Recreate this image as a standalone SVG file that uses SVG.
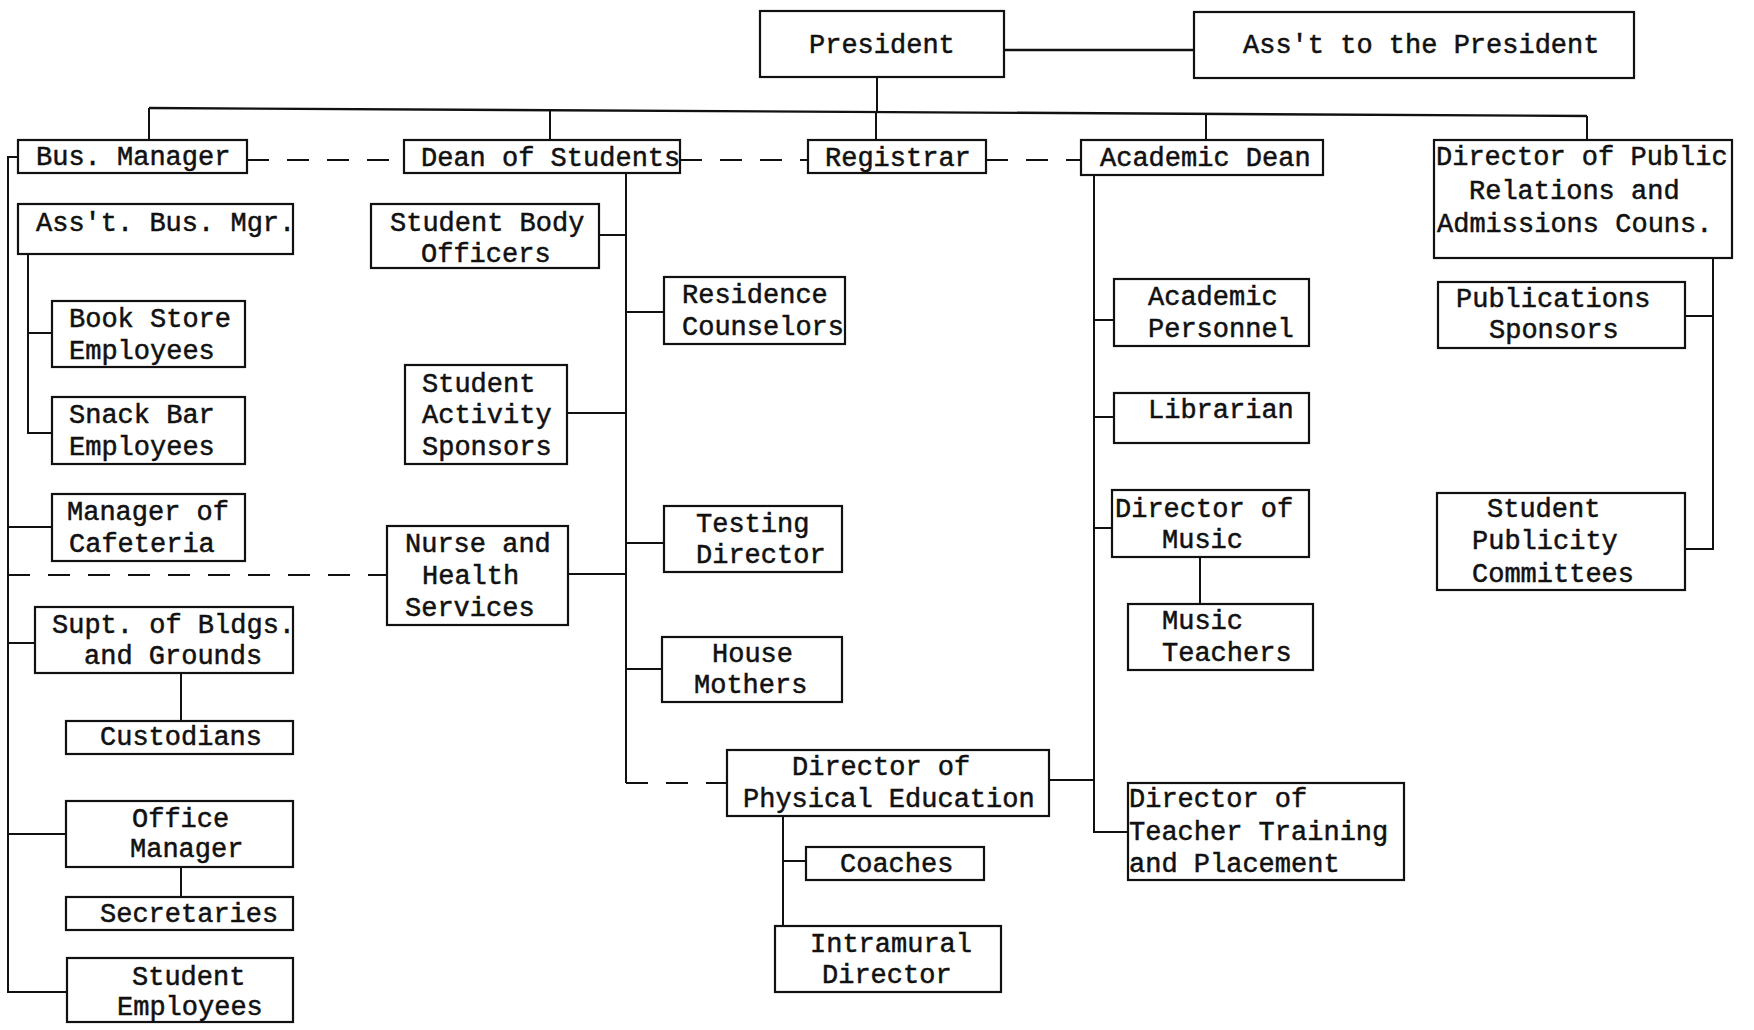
<svg xmlns="http://www.w3.org/2000/svg" width="1754" height="1030" viewBox="0 0 1754 1030">
<style>
.b{fill:#fff;stroke:#111;stroke-width:2.2}
.t{font-family:"Liberation Mono","Courier New",monospace;font-size:27px;fill:#111;stroke:#111;stroke-width:0.5}
.c{fill:none;stroke:#111;stroke-width:2}
.d{fill:none;stroke:#111;stroke-width:2.2;stroke-dasharray:22 18}
</style>
<rect width="1754" height="1030" fill="#fff"/>
<g id="connectors">
<path class="c" d="M1004 50H1194" style="stroke-width:2.6"/>
<path class="c" d="M877 77V112"/>
<path class="c" d="M149 108L1587 116" style="stroke-width:2.4"/>
<path class="c" d="M149 108V140M550 110V140M876 112V140M1206 114V140M1587 116V140"/>
<path class="d" d="M247 160H404M680 160H808M986 160H1081"/>
<path class="c" d="M18 157H8V992H67M8 527H52M8 643H35M8 834H66"/>
<path class="d" d="M8 575H387"/>
<path class="c" d="M28 254V433H52M28 333H52"/>
<path class="c" d="M626 173V783M599 235H626M626 312H664M567 413H626M626 543H664M568 574H626M626 669H662"/>
<path class="d" d="M626 783H727"/>
<path class="c" d="M181 673V721M181 867V897"/>
<path class="c" d="M783 816V926M783 861H806"/>
<path class="c" d="M1049 780H1094M1094 175V832H1128M1094 320H1114M1094 417H1114M1094 528H1112"/>
<path class="c" d="M1200 557V604"/>
<path class="c" d="M1713 258V549H1685M1685 316H1713"/>
</g>
<g id="president"><rect class="b" x="760" y="11" width="244" height="66"/><text class="t" x="809" y="53">President</text></g>
<g id="asst-president"><rect class="b" x="1194" y="12" width="440" height="66"/><text class="t" x="1243" y="53">Ass't to the President</text></g>
<g id="bus-manager"><rect class="b" x="18" y="140" width="229" height="33"/><text class="t" x="36" y="165">Bus. Manager</text></g>
<g id="dean-students"><rect class="b" x="404" y="140" width="276" height="33"/><text class="t" x="421" y="166">Dean of Students</text></g>
<g id="registrar"><rect class="b" x="808" y="140" width="178" height="33"/><text class="t" x="825" y="166">Registrar</text></g>
<g id="academic-dean"><rect class="b" x="1081" y="140" width="242" height="35"/><text class="t" x="1100" y="166">Academic Dean</text></g>
<g id="dir-public-relations"><rect class="b" x="1434" y="140" width="298" height="118"/><text class="t" x="1436" y="165">Director of Public</text><text class="t" x="1469" y="199">Relations and</text><text class="t" x="1437" y="232">Admissions Couns.</text></g>
<g id="asst-bus-mgr"><rect class="b" x="18" y="204" width="275" height="50"/><text class="t" x="36" y="231">Ass't. Bus. Mgr.</text></g>
<g id="student-body-officers"><rect class="b" x="371" y="204" width="228" height="64"/><text class="t" x="390" y="231">Student Body</text><text class="t" x="421" y="262">Officers</text></g>
<g id="book-store"><rect class="b" x="52" y="301" width="193" height="66"/><text class="t" x="69" y="327">Book Store</text><text class="t" x="69" y="359">Employees</text></g>
<g id="snack-bar"><rect class="b" x="52" y="397" width="193" height="67"/><text class="t" x="69" y="423">Snack Bar</text><text class="t" x="69" y="455">Employees</text></g>
<g id="manager-cafeteria"><rect class="b" x="52" y="494" width="193" height="67"/><text class="t" x="67" y="520">Manager of</text><text class="t" x="69" y="552">Cafeteria</text></g>
<g id="supt-bldgs"><rect class="b" x="35" y="607" width="258" height="66"/><text class="t" x="52" y="633">Supt. of Bldgs.</text><text class="t" x="84" y="664">and Grounds</text></g>
<g id="custodians"><rect class="b" x="66" y="721" width="227" height="33"/><text class="t" x="100" y="745">Custodians</text></g>
<g id="office-manager"><rect class="b" x="66" y="801" width="227" height="66"/><text class="t" x="132" y="827">Office</text><text class="t" x="130" y="857">Manager</text></g>
<g id="secretaries"><rect class="b" x="66" y="897" width="227" height="33"/><text class="t" x="100" y="922">Secretaries</text></g>
<g id="student-employees"><rect class="b" x="67" y="958" width="226" height="64"/><text class="t" x="132" y="985">Student</text><text class="t" x="117" y="1015">Employees</text></g>
<g id="student-activity-sponsors"><rect class="b" x="405" y="365" width="162" height="99"/><text class="t" x="422" y="392">Student</text><text class="t" x="422" y="423">Activity</text><text class="t" x="422" y="455">Sponsors</text></g>
<g id="nurse-health"><rect class="b" x="387" y="526" width="181" height="99"/><text class="t" x="405" y="552">Nurse and</text><text class="t" x="422" y="584">Health</text><text class="t" x="405" y="616">Services</text></g>
<g id="residence-counselors"><rect class="b" x="664" y="277" width="181" height="67"/><text class="t" x="682" y="303">Residence</text><text class="t" x="682" y="335">Counselors</text></g>
<g id="testing-director"><rect class="b" x="664" y="506" width="178" height="66"/><text class="t" x="696" y="532">Testing</text><text class="t" x="696" y="563">Director</text></g>
<g id="house-mothers"><rect class="b" x="662" y="637" width="180" height="65"/><text class="t" x="712" y="662">House</text><text class="t" x="694" y="693">Mothers</text></g>
<g id="dir-physical-education"><rect class="b" x="727" y="750" width="322" height="66"/><text class="t" x="792" y="775">Director of</text><text class="t" x="743" y="807">Physical Education</text></g>
<g id="coaches"><rect class="b" x="806" y="847" width="178" height="33"/><text class="t" x="840" y="872">Coaches</text></g>
<g id="intramural-director"><rect class="b" x="775" y="926" width="226" height="66"/><text class="t" x="810" y="952">Intramural</text><text class="t" x="822" y="983">Director</text></g>
<g id="academic-personnel"><rect class="b" x="1114" y="279" width="195" height="67"/><text class="t" x="1148" y="305">Academic</text><text class="t" x="1148" y="337">Personnel</text></g>
<g id="librarian"><rect class="b" x="1114" y="393" width="195" height="50"/><text class="t" x="1148" y="418">Librarian</text></g>
<g id="dir-music"><rect class="b" x="1112" y="490" width="197" height="67"/><text class="t" x="1115" y="517">Director of</text><text class="t" x="1162" y="548">Music</text></g>
<g id="music-teachers"><rect class="b" x="1128" y="604" width="185" height="66"/><text class="t" x="1162" y="629">Music</text><text class="t" x="1162" y="661">Teachers</text></g>
<g id="dir-teacher-training"><rect class="b" x="1128" y="783" width="276" height="97"/><text class="t" x="1129" y="807">Director of</text><text class="t" x="1129" y="840">Teacher Training</text><text class="t" x="1129" y="872">and Placement</text></g>
<g id="publications-sponsors"><rect class="b" x="1438" y="282" width="247" height="66"/><text class="t" x="1456" y="307">Publications</text><text class="t" x="1489" y="338">Sponsors</text></g>
<g id="student-publicity"><rect class="b" x="1437" y="493" width="248" height="97"/><text class="t" x="1487" y="517">Student</text><text class="t" x="1472" y="549">Publicity</text><text class="t" x="1472" y="582">Committees</text></g>
</svg>
